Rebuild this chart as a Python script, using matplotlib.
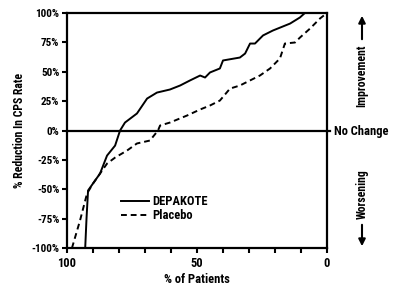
import matplotlib

matplotlib.use("Agg")
import matplotlib.pyplot as plt
from matplotlib.patches import FancyArrowPatch

plt.rcParams["font.family"] = ["Roboto Condensed", "DejaVu Sans"]
plt.rcParams["font.weight"] = "bold"

# % of patients (x, reversed axis) vs % reduction in CPS rate (y)
depakote_x = [93.0, 92.5, 91.9, 87.3, 84.6, 81.5, 79.6, 77.7, 73.1, 69.2, 65.4, 60.4, 56.5,
              52.7, 48.8, 46.9, 45.0, 41.2, 40.0, 33.5, 31.5, 29.6, 27.7, 24.6, 20.8, 14.2,
              10.4, 8.5]
depakote_y = [-100, -75, -51, -36.6, -21.3, -12.8, 0, 6.8, 14.5, 27.2, 32.3, 34.9, 38.3,
              42.6, 46.8, 45.1, 49.4, 52.8, 59.6, 62.1, 65.5, 74, 74, 80.9, 85.1, 91,
              96.2, 100]

placebo_x = [98.1, 95.0, 92.3, 90.0, 87.3, 84.6, 81.5, 76.9, 73.1, 68.1, 65.0, 64.2, 60.4,
             53.8, 48.8, 45.0, 41.2, 37.3, 33.5, 25.8, 21.9, 18.1, 16.2, 12.3, 10.4, 6.5,
             2.7, 0.0]
placebo_y = [-100, -76.6, -53.6, -45.1, -36.6, -28.1, -23, -17, -11, -8.5, 0, 4.3, 6.8,
             12.8, 17.9, 21.3, 25.5, 35.7, 38.3, 46.8, 52.8, 61.3, 74, 74.9, 79.1, 86.8,
             95.3, 100]

y_ticks = [100, 75, 50, 25, 0, -25, -50, -75, -100]
x_ticks = [100, 90, 80, 70, 60, 50, 40, 30, 20, 10, 0]
x_labels = ["100", "", "", "", "", "50", "", "", "", "", "0"]

fig = plt.figure(figsize=(4.0, 2.95), dpi=100)
ax = fig.add_axes([0.1675, 0.159, 0.65, 0.797])

ax.plot(depakote_x, depakote_y, color="black", lw=1.4, label="DEPAKOTE")
ax.plot(placebo_x, placebo_y, color="black", lw=1.4, ls=(0, (3, 2)), label="Placebo")
ax.axhline(0, xmin=0, xmax=1.012, color="black", lw=1.6, clip_on=False)

ax.set_xlim(100, 0)
ax.set_ylim(-100, 100)
ax.set_xticks(x_ticks)
ax.set_xticklabels(x_labels)
ax.set_yticks(y_ticks)
ax.set_yticklabels([f"{v}%" for v in y_ticks])
ax.tick_params(direction="out", length=3.5, width=1.5, labelsize=8, pad=2)
ax.tick_params(axis="x", labelsize=9, pad=3)
for sp in ax.spines.values():
    sp.set_linewidth(1.6)

ax.set_xlabel("% of Patients", fontsize=9, fontweight="bold", labelpad=2)
ax.set_ylabel("% Reduction In CPS Rate", fontsize=8.5, fontweight="bold", labelpad=4)

leg = ax.legend(loc="lower left", bbox_to_anchor=(0.19, 0.09), frameon=False,
                fontsize=9, handlelength=2.2, handletextpad=0.3, labelspacing=0.05,
                borderaxespad=0)

fig.text(0.834, 1 - 131 / 295, "No Change", fontsize=9, fontweight="bold",
         va="center", ha="left")

# direction hints on the right
fig.text(0.905, 1 - 76 / 295, "Improvement", rotation=90, fontsize=8.5,
         fontweight="bold", ha="center", va="center")
fig.text(0.905, 1 - 194 / 295, "Worsening", rotation=90, fontsize=8.5,
         fontweight="bold", ha="center", va="center")
fig.add_artist(FancyArrowPatch(
    (0.905, 1 - 42 / 295), (0.905, 1 - 13 / 295), transform=fig.transFigure,
    arrowstyle="-|>,head_length=4,head_width=2", color="black", lw=1.5))
fig.add_artist(FancyArrowPatch(
    (0.905, 1 - 222 / 295), (0.905, 1 - 249 / 295), transform=fig.transFigure,
    arrowstyle="-|>,head_length=4,head_width=2", color="black", lw=1.5))

fig.savefig("out.png")
